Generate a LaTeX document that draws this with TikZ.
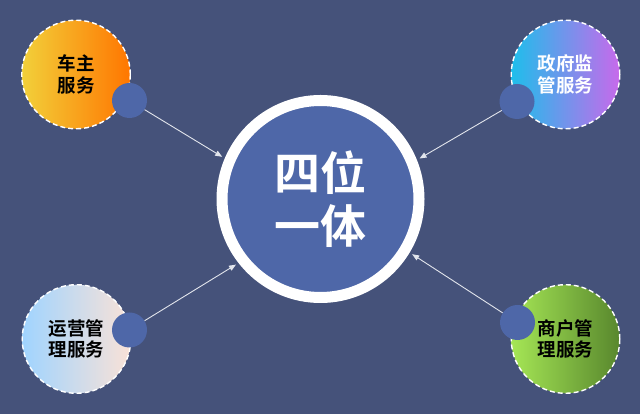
\documentclass[tikz,border=0pt]{standalone}
\usepackage{fontspec}
\newfontfamily\cjk{Noto Sans CJK SC}[BoldFont={* Bold}]
\usetikzlibrary{arrows.meta}

\definecolor{bgcol}{RGB}{69,82,122}
\definecolor{dotcol}{RGB}{78,103,168}
\definecolor{linkcol}{RGB}{226,229,236}
\definecolor{carL}{RGB}{242,208,58}
\definecolor{carR}{RGB}{255,118,0}
\definecolor{govL}{RGB}{30,190,235}
\definecolor{govR}{RGB}{200,105,235}
\definecolor{opsL}{RGB}{160,212,255}
\definecolor{opsR}{RGB}{250,226,215}
\definecolor{shopL}{RGB}{165,230,85}
\definecolor{shopR}{RGB}{88,135,45}

\begin{document}
\begin{tikzpicture}[x=1pt,y=1pt]
			\tikzstyle{service} = [
				circle, draw = white, dash pattern = on 5pt off 3pt,
				line width = 1.4pt, inner sep = 0pt, minimum size = 108.6pt,
				align = center, font = \cjk\bfseries\fontsize{18.5}{21.5}\selectfont
			]
			\tikzstyle{dot} = [circle, fill = dotcol, inner sep = 0pt, minimum size = 35pt]
			\tikzstyle{link}=[-{Triangle[length=7pt,width=5.5pt]},draw=linkcol,line width=0.9pt,shorten >=3pt]
			\fill[bgcol] (0,0) rectangle (640,414);
			\node[circle, draw = white, line width = 11pt, fill = dotcol,
				inner sep = 0pt, minimum size = 197pt, text = white, align = center,
				font = \cjk\bfseries\fontsize{46}{53}\selectfont] (core) at (320.5,215) {四位\\一体};
			\node[service, left color = carL, right color = carR] (1) at (76,339.5) {车主\\服务};
			\node[service, left color = govL, right color = govR, text = white] (2) at (565.5,339.5) {政府监\\管服务};
			\node[service, left color = opsL, right color = opsR] (3) at (76.5,75) {运营管\\理服务};
			\node[service, left color = shopL, right color = shopR] (4) at (565.5,75) {商户管\\理服务};
			\node[dot] (1d) at (129.5,313.5) {};
			\node[dot] (2d) at (517,312.5) {};
			\node[dot] (3d) at (129.5,84) {};
			\node[dot] (4d) at (517.5,91.5) {};
			\draw (1d) to (core.157) [link];
			\draw (2d) to (core.22) [link];
			\draw (3d) to (core.218) [link];
			\draw (4d) to (core.329) [link];
		\end{tikzpicture}
\end{document}
